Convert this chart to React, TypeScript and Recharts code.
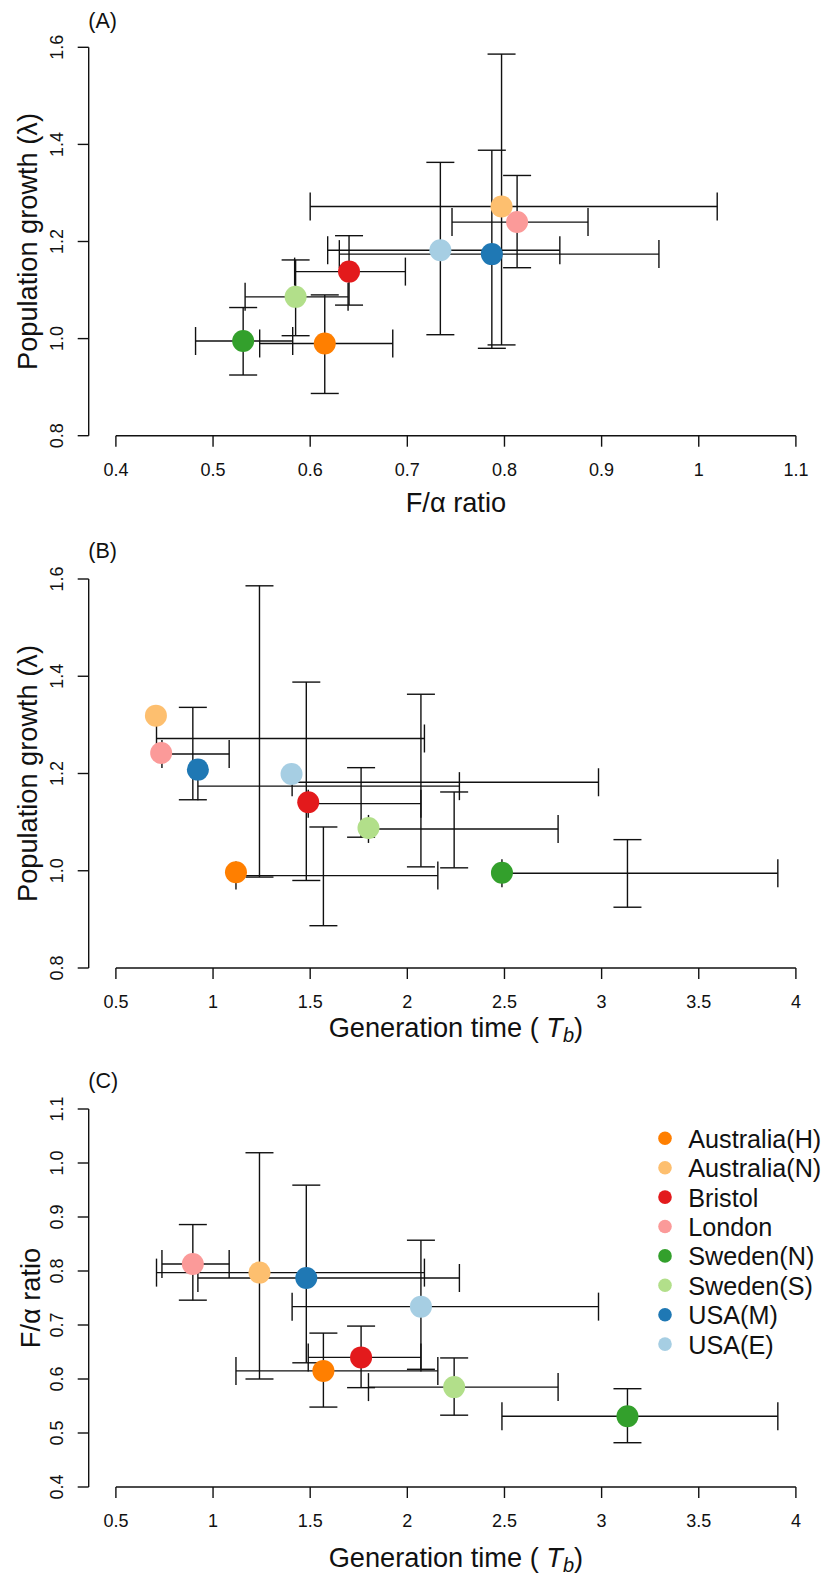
import React from "react";
import { ScatterChart, Scatter, XAxis, YAxis, ErrorBar, ReferenceLine, Label, Legend } from "recharts";

// ---------- data ----------
const populations = ["Australia(H)", "Australia(N)", "Bristol", "London", "Sweden(N)", "Sweden(S)", "USA(M)", "USA(E)"];
const colors = ["#FF7F00", "#FDBF6F", "#E31A1C", "#FB9A99", "#33A02C", "#B2DF8A", "#1F78B4", "#A6CEE3"];

// population growth (lambda) with CI
const lambdaMid = [0.990, 1.272, 1.138, 1.240, 0.995, 1.086, 1.174, 1.182];
const lambdaLo = [0.887, 0.987, 1.069, 1.146, 0.925, 1.006, 0.980, 1.008];
const lambdaHi = [1.090, 1.586, 1.212, 1.336, 1.064, 1.162, 1.388, 1.363];

// F/alpha ratio with CI
const faMid = [0.615, 0.797, 0.640, 0.813, 0.531, 0.585, 0.787, 0.734];
const faLo = [0.548, 0.600, 0.584, 0.746, 0.482, 0.533, 0.630, 0.618];
const faHi = [0.685, 1.019, 0.698, 0.886, 0.582, 0.639, 0.959, 0.857];

// generation time (T_b) with CI
const genMid = [1.568, 1.239, 1.762, 0.896, 3.133, 2.241, 1.480, 2.070];
const genLo = [1.118, 0.709, 1.490, 0.737, 2.487, 1.800, 0.922, 1.407];
const genHi = [2.157, 2.088, 2.070, 1.083, 3.907, 2.776, 2.268, 2.984];

// plotted point positions in panel (B)
const panelBPointX = [1.118, 0.706, 1.490, 0.733, 2.487, 1.800, 0.922, 1.404];
const panelBPointY = [0.997, 1.319, 1.141, 1.242, 0.996, 1.088, 1.208, 1.199];

// ticks
const faTicks = [0.4, 0.5, 0.6, 0.7, 0.8, 0.9, 1.0, 1.1];
const faXLabels = ["0.4", "0.5", "0.6", "0.7", "0.8", "0.9", "1", "1.1"];
const faYLabels = ["0.4", "0.5", "0.6", "0.7", "0.8", "0.9", "1.0", "1.1"];
const lambdaTicks = [0.8, 1.0, 1.2, 1.4, 1.6];
const lambdaLabels = ["0.8", "1.0", "1.2", "1.4", "1.6"];
const genTicks = [0.5, 1, 1.5, 2, 2.5, 3, 3.5, 4];
const genLabels = ["0.5", "1", "1.5", "2", "2.5", "3", "3.5", "4"];

// ---------- styling ----------
const FONT = '"Liberation Sans", Arial, Helvetica, sans-serif';
const INK = "#111";
const LW = 1.4;
const PLOT_LEFT = 88.7;
const CHART_W = 826;
const RIGHT_MARGIN = 2.9;
const TITLE_FS = 27.2;

type Pt = { x: number; y: number; color: string; name: string };
type Bar = { x: number; y: number; ex: [number, number]; ey: [number, number] };

function makeBars(xm: number[], xl: number[], xh: number[], ym: number[], yl: number[], yh: number[]): Bar[] {
  return xm.map((x, i) => ({
    x,
    y: ym[i],
    ex: [x - xl[i], xh[i] - x] as [number, number],
    ey: [ym[i] - yl[i], yh[i] - ym[i]] as [number, number],
  }));
}
function makePoints(xs: number[], ys: number[]): Pt[] {
  return xs.map((x, i) => ({ x, y: ys[i], color: colors[i], name: populations[i] }));
}

const XTick = (props: any) => {
  const { x, y, payload, ticks, labels } = props;
  const idx = ticks.findIndex((t: number) => Math.abs(t - payload.value) < 1e-9);
  return (
    <text x={x} y={y} dy={13} textAnchor="middle" fontSize={18} fill={INK} fontFamily={FONT}>
      {idx >= 0 ? labels[idx] : String(payload.value)}
    </text>
  );
};
const YTick = (props: any) => {
  const { x, y, payload, ticks, labels } = props;
  const idx = ticks.findIndex((t: number) => Math.abs(t - payload.value) < 1e-9);
  return (
    <text x={x} y={y} transform={`rotate(-90 ${x} ${y})`} textAnchor="middle" fontSize={18} fill={INK} fontFamily={FONT}>
      {idx >= 0 ? labels[idx] : String(payload.value)}
    </text>
  );
};

const GenTitle = () => (
  <>
    <tspan>Generation time ( </tspan>
    <tspan fontStyle="italic">T</tspan>
    <tspan fontStyle="italic" fontSize={20} dy={5}>b</tspan>
    <tspan dy={-5}>)</tspan>
  </>
);

type PanelProps = {
  top: number;
  height: number;
  plotTop: number;
  plotBottom: number;
  xDomain: [number, number];
  yDomain: [number, number];
  xTicks: number[];
  xLabels: string[];
  yTicks: number[];
  yLabels: string[];
  points: Pt[];
  bars: Bar[];
  tag: string;
  xTitle: React.ReactNode;
  xTitleY: number;
  yTitle: React.ReactNode;
  yTitleX: number;
  legend?: boolean;
};

function LegendBox() {
  return (
    <svg width={176} height={250} style={{ display: "block" }}>
      {populations.map((p, i) => {
        const cy = 18.3 + i * 29.4;
        return (
          <g key={p}>
            <circle cx={15} cy={cy} r={6.8} fill={colors[i]} />
            <text x={38.3} y={cy + 9.5} fontSize={25.2} fill={INK} fontFamily={FONT}>
              {p}
            </text>
          </g>
        );
      })}
    </svg>
  );
}

function Panel(props: PanelProps) {
  const { top, height, plotTop, plotBottom, xDomain, yDomain, xTicks, xLabels, yTicks, yLabels, points, bars, tag, xTitle, xTitleY, yTitle, yTitleX, legend } = props;
  const plotCx = (PLOT_LEFT + CHART_W - RIGHT_MARGIN) / 2;
  const plotCy = (plotTop + plotBottom) / 2;
  return (
    <div style={{ position: "absolute", left: 0, top, width: CHART_W, height }}>
      <ScatterChart
        width={CHART_W}
        height={height}
        margin={{ top: plotTop, right: RIGHT_MARGIN, bottom: 0, left: 0 }}
        style={{ fontFamily: FONT }}
      >
        <XAxis
          type="number"
          dataKey="x"
          domain={xDomain}
          allowDataOverflow
          ticks={xTicks}
          interval={0}
          height={height - plotBottom}
          axisLine={false}
          tickLine={{ stroke: INK, strokeWidth: LW }}
          tickSize={11}
          tickMargin={16}
          tick={(p: any) => <XTick {...p} ticks={xTicks} labels={xLabels} />}
        >
          <Label
            content={() => (
              <text x={plotCx} y={xTitleY} textAnchor="middle" fontSize={TITLE_FS} fill={INK} fontFamily={FONT}>
                {xTitle}
              </text>
            )}
          />
        </XAxis>
        <YAxis
          type="number"
          dataKey="y"
          domain={yDomain}
          allowDataOverflow
          ticks={yTicks}
          interval={0}
          width={PLOT_LEFT}
          axisLine={false}
          tickLine={{ stroke: INK, strokeWidth: LW }}
          tickSize={11}
          tickMargin={14.4}
          tick={(p: any) => <YTick {...p} ticks={yTicks} labels={yLabels} />}
        >
          <Label
            content={() => (
              <g>
                <text
                  x={yTitleX}
                  y={plotCy}
                  transform={`rotate(-90 ${yTitleX} ${plotCy})`}
                  textAnchor="middle"
                  fontSize={TITLE_FS}
                  fill={INK}
                  fontFamily={FONT}
                >
                  {yTitle}
                </text>
                <text x={88.3} y={28.3} fontSize={21.5} fill={INK} fontFamily={FONT}>
                  {tag}
                </text>
              </g>
            )}
          />
        </YAxis>
        <ReferenceLine
          segment={[
            { x: xTicks[0], y: yDomain[0] },
            { x: xTicks[xTicks.length - 1], y: yDomain[0] },
          ]}
          stroke={INK}
          strokeWidth={LW}
          ifOverflow="visible"
        />
        <ReferenceLine
          segment={[
            { x: xDomain[0], y: yTicks[0] },
            { x: xDomain[0], y: yTicks[yTicks.length - 1] },
          ]}
          stroke={INK}
          strokeWidth={LW}
          ifOverflow="visible"
        />
        {points.map((p) => (
          <Scatter
            key={p.name}
            name={p.name}
            data={[p]}
            fill={p.color}
            isAnimationActive={false}
            shape={(s: any) => <circle cx={s.cx} cy={s.cy} r={11} fill={p.color} />}
          />
        ))}
        <Scatter
          name="ci"
          data={bars}
          legendType="none"
          isAnimationActive={false}
          shape={() => <g />}
        >
          <ErrorBar dataKey="ex" direction="x" width={14} stroke={INK} strokeWidth={LW} isAnimationActive={false} />
          <ErrorBar dataKey="ey" direction="y" width={14} stroke={INK} strokeWidth={LW} isAnimationActive={false} />
        </Scatter>
        {legend ? (
          <Legend
            layout="vertical"
            align="center"
            verticalAlign="middle"
            wrapperStyle={{ left: 650, top: 60, width: 176, height: 250 }}
            content={() => <LegendBox />}
          />
        ) : null}
      </ScatterChart>
    </div>
  );
}

const pointsA = makePoints(faMid, lambdaMid);
const barsA = makeBars(faMid, faLo, faHi, lambdaMid, lambdaLo, lambdaHi);
const pointsB = makePoints(panelBPointX, panelBPointY);
const barsB = makeBars(genMid, genLo, genHi, lambdaMid, lambdaLo, lambdaHi);
const pointsC = makePoints(genMid, faMid);
const barsC = makeBars(genMid, genLo, genHi, faMid, faLo, faHi);

const lambdaTitle = "Population growth (\u03BB)";
const faTitle = "F/\u03B1 ratio";

export default function App() {
  return (
    <div style={{ position: "absolute", left: 0, top: 0, width: 826, height: 1578, background: "#fff" }}>
      <Panel
        top={0}
        height={530}
        plotTop={47.3}
        plotBottom={435.7}
        xDomain={[0.372, 1.128]}
        yDomain={[0.8, 1.6]}
        xTicks={faTicks}
        xLabels={faXLabels}
        yTicks={lambdaTicks}
        yLabels={lambdaLabels}
        points={pointsA}
        bars={barsA}
        tag="(A)"
        xTitle={faTitle}
        xTitleY={511.7}
        yTitle={lambdaTitle}
        yTitleX={36.5}
      />
      <Panel
        top={530}
        height={530}
        plotTop={49}
        plotBottom={438}
        xDomain={[0.36, 4.14]}
        yDomain={[0.8, 1.6]}
        xTicks={genTicks}
        xLabels={genLabels}
        yTicks={lambdaTicks}
        yLabels={lambdaLabels}
        points={pointsB}
        bars={barsB}
        tag="(B)"
        xTitle={<GenTitle />}
        xTitleY={507}
        yTitle={lambdaTitle}
        yTitleX={36.5}
      />
      <Panel
        top={1060}
        height={518}
        plotTop={49}
        plotBottom={427}
        xDomain={[0.36, 4.14]}
        yDomain={[0.4, 1.1]}
        xTicks={genTicks}
        xLabels={genLabels}
        yTicks={faTicks}
        yLabels={faYLabels}
        points={pointsC}
        bars={barsC}
        tag="(C)"
        xTitle={<GenTitle />}
        xTitleY={507}
        yTitle={faTitle}
        yTitleX={40}
        legend
      />
    </div>
  );
}
